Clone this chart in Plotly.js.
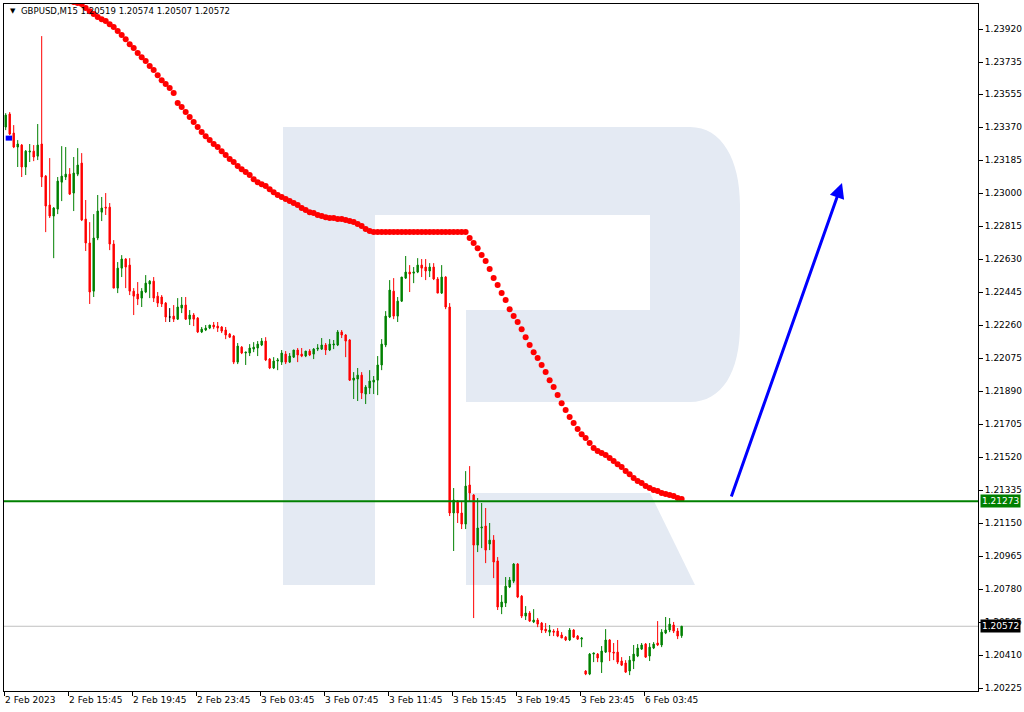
<!DOCTYPE html>
<html>
<head>
<meta charset="utf-8">
<script src="https://cdn.plot.ly/plotly-3.0.1.min.js"></script>
<style>
  html, body { margin: 0; padding: 0; background: #ffffff; }
  #chart { width: 1024px; height: 712px; }
</style>
</head>
<body>
<div id="chart"></div>
<script>
// ---------------- DATA ----------------
const symbolName = "GBPUSD,M15";

const tickLabels = ["2 Feb 2023", "2 Feb 15:45", "2 Feb 19:45", "2 Feb 23:45", "3 Feb 03:45",
  "3 Feb 07:45", "3 Feb 11:45", "3 Feb 15:45", "3 Feb 19:45", "3 Feb 23:45", "6 Feb 03:45"];
const tickBars = [0, 16, 32, 48, 64, 80, 96, 112, 128, 144, 160];

const priceTicks = [1.20225, 1.20410, 1.20595, 1.20780, 1.20965, 1.21150, 1.21335, 1.21520,
  1.21705, 1.21890, 1.22075, 1.22260, 1.22445, 1.22630, 1.22815, 1.23000, 1.23185, 1.23370,
  1.23555, 1.23735, 1.23920];

const openPrices = [
  1.23371, 1.23444, 1.23337, 1.23259, 1.23270, 1.23147, 1.23231, 1.23236, 1.23208, 1.23276,
  1.23096, 1.22934, 1.22872, 1.22911, 1.23062, 1.23091, 1.23107, 1.23001, 1.23107, 1.23169,
  1.22855, 1.22721, 1.22451, 1.22749, 1.22894, 1.22922, 1.22922, 1.22715, 1.22468, 1.22580,
  1.22631, 1.22597, 1.22451, 1.22435, 1.22412, 1.22446, 1.22491, 1.22507, 1.22423, 1.22418,
  1.22384, 1.22306, 1.22311, 1.22294, 1.22356, 1.22373, 1.22294, 1.22317, 1.22300, 1.22222,
  1.22233, 1.22244, 1.22261, 1.22255, 1.22250, 1.22233, 1.22210, 1.22199, 1.22053, 1.22137,
  1.22104, 1.22104, 1.22126, 1.22132, 1.22149, 1.22171, 1.22070, 1.22020, 1.22059, 1.22053,
  1.22098, 1.22053, 1.22081, 1.22121, 1.22098, 1.22087, 1.22115, 1.22098, 1.22126, 1.22126,
  1.22149, 1.22121, 1.22149, 1.22149, 1.22222, 1.22205, 1.22177, 1.21952, 1.21958, 1.21980,
  1.21874, 1.21908, 1.21941, 1.21952, 1.22037, 1.22149, 1.22306, 1.22451, 1.22311, 1.22395,
  1.22524, 1.22558, 1.22552, 1.22558, 1.22597, 1.22586, 1.22564, 1.22586, 1.22519, 1.22440,
  1.22530, 1.22362, 1.21207, 1.21274, 1.21207, 1.21145, 1.21364, 1.21308, 1.21027, 1.21123,
  1.21134, 1.21033, 1.21055, 1.20938, 1.20680, 1.20702, 1.20792, 1.20825, 1.20921, 1.20741,
  1.20629, 1.20646, 1.20596, 1.20607, 1.20590, 1.20556, 1.20539, 1.20545, 1.20545, 1.20523,
  1.20511, 1.20495, 1.20551, 1.20517, 1.20500, 1.20321, 1.20304, 1.20416, 1.20416, 1.20371,
  1.20427, 1.20495, 1.20427, 1.20427, 1.20377, 1.20366, 1.20321, 1.20377, 1.20405, 1.20444,
  1.20472, 1.20405, 1.20450, 1.20478, 1.20467, 1.20534, 1.20551, 1.20579, 1.20545, 1.20519
];

const highPrices = [
  1.23449, 1.23455, 1.23382, 1.23298, 1.23276, 1.23242, 1.23276, 1.23270, 1.23388, 1.23881,
  1.23102, 1.23197, 1.22922, 1.23091, 1.23264, 1.23259, 1.23141, 1.23203, 1.23253, 1.23225,
  1.22962, 1.22838, 1.22883, 1.22990, 1.22979, 1.23001, 1.22945, 1.22737, 1.22614, 1.22653,
  1.22636, 1.22636, 1.22468, 1.22502, 1.22468, 1.22541, 1.22513, 1.22530, 1.22446, 1.22429,
  1.22390, 1.22356, 1.22373, 1.22412, 1.22418, 1.22418, 1.22345, 1.22328, 1.22306, 1.22250,
  1.22261, 1.22261, 1.22278, 1.22278, 1.22255, 1.22250, 1.22216, 1.22205, 1.22160, 1.22143,
  1.22109, 1.22154, 1.22165, 1.22171, 1.22188, 1.22193, 1.22076, 1.22081, 1.22076, 1.22121,
  1.22115, 1.22104, 1.22121, 1.22132, 1.22132, 1.22115, 1.22126, 1.22132, 1.22154, 1.22188,
  1.22160, 1.22182, 1.22177, 1.22233, 1.22233, 1.22210, 1.22182, 1.21997, 1.22020, 1.21997,
  1.21924, 1.22008, 1.21975, 1.22087, 1.22182, 1.22339, 1.22513, 1.22524, 1.22418, 1.22530,
  1.22648, 1.22597, 1.22586, 1.22636, 1.22631, 1.22631, 1.22608, 1.22608, 1.22530, 1.22597,
  1.22535, 1.22384, 1.21347, 1.21280, 1.21274, 1.21442, 1.21470, 1.21313, 1.21291, 1.21263,
  1.21235, 1.21151, 1.21083, 1.20960, 1.20747, 1.20848, 1.20848, 1.20926, 1.20926, 1.20747,
  1.20685, 1.20657, 1.20668, 1.20618, 1.20596, 1.20590, 1.20579, 1.20556, 1.20562, 1.20539,
  1.20517, 1.20562, 1.20556, 1.20523, 1.20511, 1.20326, 1.20422, 1.20422, 1.20422, 1.20461,
  1.20556, 1.20500, 1.20478, 1.20495, 1.20399, 1.20382, 1.20405, 1.20467, 1.20472, 1.20478,
  1.20478, 1.20478, 1.20483, 1.20601, 1.20556, 1.20624, 1.20618, 1.20596, 1.20562, 1.20574
];

const lowPrices = [
  1.23354, 1.23326, 1.23253, 1.23147, 1.23091, 1.23102, 1.23175, 1.23180, 1.23186, 1.23035,
  1.22782, 1.22861, 1.22636, 1.22883, 1.22956, 1.23074, 1.22990, 1.22900, 1.23096, 1.22844,
  1.22676, 1.22379, 1.22418, 1.22737, 1.22844, 1.22878, 1.22681, 1.22468, 1.22440, 1.22530,
  1.22468, 1.22429, 1.22317, 1.22373, 1.22362, 1.22440, 1.22412, 1.22390, 1.22362, 1.22362,
  1.22278, 1.22278, 1.22278, 1.22289, 1.22328, 1.22289, 1.22261, 1.22255, 1.22216, 1.22216,
  1.22227, 1.22238, 1.22238, 1.22222, 1.22216, 1.22182, 1.22188, 1.22042, 1.22042, 1.22098,
  1.22037, 1.22087, 1.22109, 1.22087, 1.22143, 1.22059, 1.22014, 1.22014, 1.22008, 1.22037,
  1.22042, 1.22048, 1.22076, 1.22053, 1.22081, 1.22081, 1.22087, 1.22070, 1.22115, 1.22121,
  1.22093, 1.22115, 1.22126, 1.22143, 1.22188, 1.22081, 1.21947, 1.21846, 1.21835, 1.21846,
  1.21818, 1.21874, 1.21874, 1.21868, 1.22008, 1.22137, 1.22300, 1.22294, 1.22278, 1.22390,
  1.22519, 1.22446, 1.22496, 1.22552, 1.22530, 1.22513, 1.22530, 1.22513, 1.22440, 1.22435,
  1.22350, 1.21190, 1.20994, 1.21151, 1.21117, 1.21117, 1.21274, 1.20618, 1.20988, 1.21010,
  1.20926, 1.20999, 1.20842, 1.20663, 1.20640, 1.20680, 1.20786, 1.20814, 1.20730, 1.20618,
  1.20607, 1.20596, 1.20590, 1.20567, 1.20534, 1.20534, 1.20517, 1.20517, 1.20511, 1.20506,
  1.20489, 1.20489, 1.20506, 1.20495, 1.20455, 1.20298, 1.20298, 1.20371, 1.20371, 1.20310,
  1.20422, 1.20377, 1.20382, 1.20360, 1.20349, 1.20310, 1.20298, 1.20332, 1.20399, 1.20439,
  1.20394, 1.20377, 1.20444, 1.20461, 1.20455, 1.20528, 1.20539, 1.20534, 1.20500, 1.20507
];

const closePrices = [
  1.23438, 1.23332, 1.23259, 1.23276, 1.23147, 1.23236, 1.23236, 1.23203, 1.23270, 1.23091,
  1.22928, 1.22872, 1.22917, 1.23068, 1.23096, 1.23107, 1.22995, 1.23113, 1.23158, 1.22850,
  1.22721, 1.22446, 1.22749, 1.22900, 1.22917, 1.22917, 1.22715, 1.22468, 1.22580, 1.22631,
  1.22586, 1.22451, 1.22423, 1.22407, 1.22451, 1.22496, 1.22507, 1.22412, 1.22384, 1.22379,
  1.22306, 1.22306, 1.22294, 1.22362, 1.22373, 1.22294, 1.22317, 1.22294, 1.22222, 1.22238,
  1.22244, 1.22261, 1.22250, 1.22244, 1.22227, 1.22205, 1.22193, 1.22053, 1.22143, 1.22104,
  1.22109, 1.22132, 1.22137, 1.22154, 1.22171, 1.22065, 1.22020, 1.22059, 1.22065, 1.22104,
  1.22053, 1.22087, 1.22121, 1.22093, 1.22087, 1.22115, 1.22093, 1.22126, 1.22132, 1.22149,
  1.22121, 1.22154, 1.22154, 1.22222, 1.22205, 1.22171, 1.21952, 1.21964, 1.21980, 1.21880,
  1.21913, 1.21947, 1.21952, 1.22037, 1.22154, 1.22311, 1.22457, 1.22311, 1.22395, 1.22530,
  1.22558, 1.22547, 1.22558, 1.22597, 1.22580, 1.22564, 1.22586, 1.22519, 1.22440, 1.22530,
  1.22362, 1.21207, 1.21280, 1.21207, 1.21145, 1.21358, 1.21319, 1.21027, 1.21123, 1.21128,
  1.20999, 1.21055, 1.20932, 1.20680, 1.20708, 1.20797, 1.20831, 1.20921, 1.20736, 1.20629,
  1.20646, 1.20601, 1.20607, 1.20584, 1.20551, 1.20545, 1.20551, 1.20539, 1.20517, 1.20506,
  1.20495, 1.20551, 1.20511, 1.20500, 1.20506, 1.20304, 1.20416, 1.20422, 1.20394, 1.20433,
  1.20495, 1.20427, 1.20422, 1.20371, 1.20354, 1.20315, 1.20382, 1.20416, 1.20450, 1.20467,
  1.20399, 1.20455, 1.20472, 1.20467, 1.20539, 1.20551, 1.20584, 1.20545, 1.20517, 1.20572
];

// red dotted moving average (not visible for the first bars: above the chart)
const maPrices = [
  null, null, null, null, null, null, null, null, null, null,
  null, null, null, null, 1.24089, 1.24083, 1.24077, 1.24072, 1.24066, 1.24061,
  1.24038, 1.24021, 1.24005, 1.23988, 1.23976, 1.23965, 1.23948, 1.23932, 1.23909, 1.23887,
  1.23864, 1.23836, 1.23814, 1.23786, 1.23763, 1.23741, 1.23713, 1.23691, 1.23662, 1.23634,
  1.23612, 1.23590, 1.23562, 1.23506, 1.23483, 1.23455, 1.23427, 1.23399, 1.23371, 1.23343,
  1.23320, 1.23298, 1.23276, 1.23259, 1.23236, 1.23214, 1.23192, 1.23175, 1.23152, 1.23135,
  1.23119, 1.23102, 1.23079, 1.23062, 1.23051, 1.23040, 1.23023, 1.23006, 1.22990, 1.22979,
  1.22967, 1.22956, 1.22945, 1.22934, 1.22917, 1.22906, 1.22894, 1.22889, 1.22878, 1.22872,
  1.22866, 1.22861, 1.22861, 1.22855, 1.22855, 1.22850, 1.22844, 1.22838, 1.22827, 1.22816,
  1.22799, 1.22788, 1.22782, 1.22782, 1.22782, 1.22782, 1.22782, 1.22782, 1.22782, 1.22782,
  1.22782, 1.22782, 1.22782, 1.22782, 1.22782, 1.22782, 1.22782, 1.22782, 1.22782, 1.22782,
  1.22782, 1.22782, 1.22782, 1.22782, 1.22782, 1.22782, 1.22749, 1.22721, 1.22692, 1.22653,
  1.22620, 1.22575, 1.22524, 1.22485, 1.22440, 1.22401, 1.22350, 1.22311, 1.22278, 1.22238,
  1.22193, 1.22149, 1.22109, 1.22076, 1.22037, 1.21997, 1.21952, 1.21913, 1.21868, 1.21823,
  1.21784, 1.21745, 1.21711, 1.21678, 1.21649, 1.21627, 1.21599, 1.21571, 1.21554, 1.21543,
  1.21532, 1.21515, 1.21498, 1.21481, 1.21465, 1.21442, 1.21425, 1.21403, 1.21386, 1.21375,
  1.21358, 1.21347, 1.21336, 1.21330, 1.21319, 1.21313, 1.21308, 1.21302, 1.21291, 1.21285
];

const supportLevel = 1.21273;        // green horizontal line
const blueMarkLevel = 1.23309;       // small blue mark at the left edge
const blueMarkBars = [0, 1.6];
const forecastFromBar = 181.3, forecastFromPrice = 1.21291;   // blue arrow tail
const forecastToBar = 209.1, forecastToPrice = 1.23057;       // blue arrow head

// ---------------- BUILD ----------------
const bars = openPrices.map((_, i) => i);
const lastClose = closePrices[closePrices.length - 1];
const n = bars.length;
const fmt = v => v.toFixed(5);

const isDoji = i => openPrices[i] === closePrices[i];
const normIdx = bars.filter(i => !isDoji(i));
const dojiIdx = bars.filter(i => isDoji(i));
const pick = (arr, idx) => idx.map(i => arr[i]);

const GREEN = "#008000", RED = "#ff0000";

const traces = [
  {
    type: "candlestick",
    x: pick(bars, normIdx), open: pick(openPrices, normIdx), high: pick(highPrices, normIdx),
    low: pick(lowPrices, normIdx), close: pick(closePrices, normIdx),
    increasing: { line: { color: GREEN, width: 1 }, fillcolor: GREEN },
    decreasing: { line: { color: RED, width: 1 }, fillcolor: RED },
    whiskerwidth: 0, hoverinfo: "skip", showlegend: false
  },
  {
    type: "candlestick",
    x: pick(bars, dojiIdx), open: pick(openPrices, dojiIdx), high: pick(highPrices, dojiIdx),
    low: pick(lowPrices, dojiIdx), close: pick(closePrices, dojiIdx),
    increasing: { line: { color: "#000000", width: 1 }, fillcolor: "#000000" },
    decreasing: { line: { color: "#000000", width: 1 }, fillcolor: "#000000" },
    whiskerwidth: 0, hoverinfo: "skip", showlegend: false
  },
  {
    type: "scatter", mode: "markers", x: bars, y: maPrices,
    marker: { color: RED, size: 6, line: { width: 0 } },
    hoverinfo: "skip", showlegend: false
  },
  {
    type: "scatter", mode: "lines", x: blueMarkBars, y: [blueMarkLevel, blueMarkLevel],
    line: { color: "#0000ff", width: 5 }, hoverinfo: "skip", showlegend: false
  }
];

// plot area in pixels: x 4..978, y 4..691
const L = 4, R = 978, T = 4, B = 691;
const px = v => (v - L) / (R - L);
const py = v => (B - v) / (B - T);
const WM = "rgb(228,234,243)";
const bowlPath = [
  `M ${px(375)} ${py(127)}`,
  `L ${px(690)} ${py(127)}`,
  `C ${px(722)} ${py(127)} ${px(740)} ${py(160)} ${px(740)} ${py(205)}`,
  `L ${px(740)} ${py(325)}`,
  `C ${px(740)} ${py(372)} ${px(722)} ${py(402)} ${px(690)} ${py(402)}`,
  `L ${px(466)} ${py(402)}`,
  `L ${px(466)} ${py(310)}`,
  `L ${px(650)} ${py(310)}`,
  `L ${px(650)} ${py(215)}`,
  `L ${px(375)} ${py(215)} Z`
].join(" ");
const legPath = `M ${px(466)} ${py(493)} L ${px(650)} ${py(493)} L ${px(695)} ${py(585)} L ${px(466)} ${py(585)} Z`;

const shapes = [
  { type: "rect", xref: "paper", yref: "paper", x0: px(283), x1: px(375), y0: py(585), y1: py(127),
    fillcolor: WM, line: { width: 0 }, layer: "below" },
  { type: "path", xref: "paper", yref: "paper", path: bowlPath, fillcolor: WM, line: { width: 0 }, layer: "below" },
  { type: "path", xref: "paper", yref: "paper", path: legPath, fillcolor: WM, line: { width: 0 }, layer: "below" },
  { type: "line", xref: "paper", yref: "y", x0: 0, x1: 1, y0: lastClose, y1: lastClose,
    line: { color: "#c0c0c0", width: 1 }, layer: "below" },
  { type: "line", xref: "paper", yref: "y", x0: 0, x1: 1, y0: supportLevel, y1: supportLevel,
    line: { color: GREEN, width: 2 }, layer: "above" }
];

const FONT = "DejaVu Sans, Verdana, sans-serif";
const HFONT = "DejaVu Sans Condensed, DejaVu Sans, sans-serif";
const annotations = [
  { xref: "paper", yref: "paper", x: px(8), y: py(11), xanchor: "left", yanchor: "middle",
    text: "▼", showarrow: false, font: { family: FONT, size: 7, color: "#000" } },
  { xref: "paper", yref: "paper", x: px(19), y: py(11), xanchor: "left", yanchor: "middle",
    text: symbolName + " " + [openPrices[n - 1], highPrices[n - 1], lowPrices[n - 1], closePrices[n - 1]].map(fmt).join(" "),
    showarrow: false, font: { family: HFONT, size: 9.5, color: "#000" } },
  { xref: "paper", yref: "y", x: 1, xshift: 2, y: supportLevel, xanchor: "left", yanchor: "middle",
    text: fmt(supportLevel), showarrow: false, bgcolor: GREEN, borderpad: 1,
    font: { family: FONT, size: 9, color: "#ffffff" } },
  { xref: "paper", yref: "y", x: 1, xshift: 2, y: lastClose, xanchor: "left", yanchor: "middle",
    text: fmt(lastClose), showarrow: false, bgcolor: "#000000", borderpad: 1,
    font: { family: FONT, size: 9, color: "#ffffff" } },
  { xref: "x", yref: "y", axref: "x", ayref: "y",
    x: forecastToBar, y: forecastToPrice, ax: forecastFromBar, ay: forecastFromPrice,
    showarrow: true, arrowhead: 2, arrowsize: 1, arrowwidth: 3, arrowcolor: "#0000ff",
    standoff: 0, startstandoff: 0, text: "" }
];

const layout = {
  width: 1024, height: 712,
  margin: { l: L, r: 1024 - R, t: T, b: 712 - B, pad: 0 },
  paper_bgcolor: "#ffffff", plot_bgcolor: "#ffffff",
  showlegend: false,
  boxgap: 0.5,
  font: { family: FONT, size: 9, color: "#000" },
  xaxis: {
    range: [-0.425, 243.1], showgrid: false, zeroline: false,
    showline: true, linecolor: "#000", linewidth: 1, mirror: true,
    tickvals: tickBars.map(b => b - 0.4), ticktext: tickLabels,
    ticks: "outside", ticklen: 4, tickcolor: "#000",
    ticklabelposition: "outside right",
    tickfont: { family: FONT, size: 9, color: "#000" },
    rangeslider: { visible: false }, fixedrange: true
  },
  yaxis: {
    side: "right", range: [1.20209, 1.24061], showgrid: false, zeroline: false,
    showline: true, linecolor: "#000", linewidth: 1, mirror: true,
    tickvals: priceTicks, ticktext: priceTicks.map(fmt),
    ticks: "outside", ticklen: 4, tickcolor: "#000",
    tickfont: { family: FONT, size: 9, color: "#000" }, fixedrange: true
  },
  shapes: shapes,
  annotations: annotations
};

Plotly.newPlot("chart", traces, layout, { staticPlot: true, displayModeBar: false });
</script>
</body>
</html>
